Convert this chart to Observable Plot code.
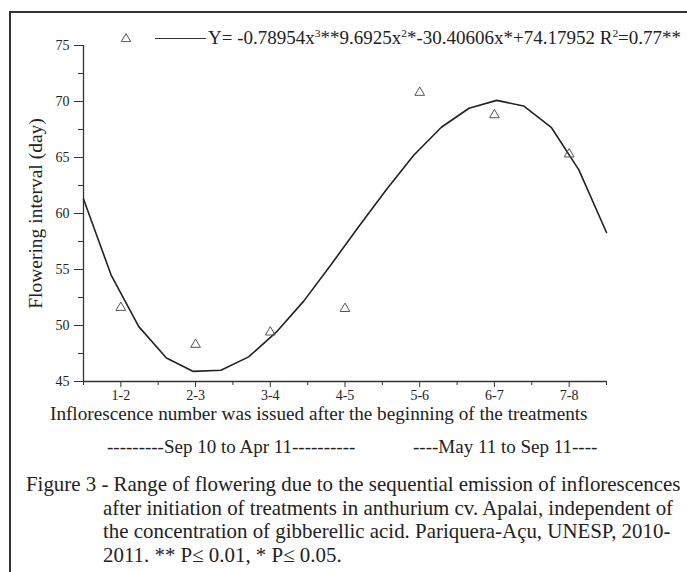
<!DOCTYPE html>
<html>
<head>
<meta charset="utf-8">
<script src="https://cdn.jsdelivr.net/npm/d3@7"></script>
<script src="https://cdn.jsdelivr.net/npm/@observablehq/plot@0.6"></script>
<style>
  html, body { margin: 0; padding: 0; background: #fff; }
  body { width: 687px; height: 572px; overflow: hidden; position: relative;
         font-family: "Liberation Serif", "Times New Roman", serif; color: #222; }
  .abs { position: absolute; white-space: nowrap; }
  sup { font-size: 0.6em; vertical-align: 0; position: relative; top: -0.6em; }
  #chart { position: absolute; left: 0; top: 0; }
</style>
</head>
<body>
<div class="abs" style="left:9px; top:11px; width:1.5px; height:561px; background:#333;"></div>
<div class="abs" style="left:9px; top:11px; width:678px; height:1.5px; background:#333;"></div>
<div id="chart"></div>
<div class="abs" id="legend" style="left:118px; top:27px; height:22px; font-size:19px; line-height:22px;">
  <svg width="90" height="22" style="vertical-align:top">
    <path d="M8,6.5 L12.7,14.6 L3.3,14.6 Z" fill="none" stroke="#555" stroke-width="1"/>
    <line x1="37" x2="88" y1="11.5" y2="11.5" stroke="#333" stroke-width="1"/>
  </svg><span id="eq" style="vertical-align:top"></span>
</div>
<div class="abs" id="xtitle" style="left:50px; top:406px; font-size:19.2px; line-height:15px;"></div>
<div class="abs" id="p1" style="left:107px; top:438px; font-size:19px; line-height:18px;"></div>
<div class="abs" id="p2" style="left:413px; top:438px; font-size:19px; line-height:18px;"></div>
<div class="abs" id="caption" style="left:26px; top:473px; font-size:20.9px; line-height:23.7px;"></div>
<script>
// ---- data ----
const xLabels = ["1-2", "2-3", "3-4", "4-5", "5-6", "6-7", "7-8"];
const xPositions = [1, 2, 3, 4, 5, 6, 7];
const observed = [51.6, 48.3, 49.4, 51.5, 70.8, 68.8, 65.3];
// fitted curve vertices as drawn (polyline)
const fitX = [0.5, 0.87, 1.24, 1.61, 1.97, 2.34, 2.71, 3.08, 3.45, 3.82,
              4.18, 4.55, 4.92, 5.29, 5.66, 6.03, 6.39, 6.76, 7.13, 7.5];
const fitY = [61.3, 54.5, 49.9, 47.1, 45.9, 46.0, 47.2, 49.4, 52.2, 55.5,
              58.8, 62.1, 65.2, 67.7, 69.4, 70.1, 69.6, 67.7, 63.9, 58.3];
const yMajor = [45, 50, 55, 60, 65, 70, 75];
const yMinor = [47.5, 52.5, 57.5, 62.5, 67.5, 72.5];
const xMinor = [0.5, 1.5, 2.5, 3.5, 4.5, 5.5, 6.5, 7.5];
const yLabel = "Flowering interval (day)";
const xTitle = "Inflorescence number was issued after the beginning of the treatments";
const period1 = "---------Sep 10 to Apr 11----------";
const period2 = "----May 11 to Sep 11----";
const equationHTML = "Y= -0.78954x<sup>3</sup>**9.6925x<sup>2</sup>*-30.40606x*+74.17952 R<sup>2</sup>=0.77**";
const captionLines = [
  "Figure 3 - Range of flowering due to the sequential emission of inflorescences",
  "after initiation of treatments in anthurium cv. Apalai, independent of",
  "the concentration of gibberellic acid. Pariquera-Açu, UNESP, 2010-",
  "2011. ** P≤ 0.01, * P≤ 0.05."
];

const points = xPositions.map((x, i) => ({x, y: observed[i]}));
const curve = fitX.map((x, i) => ({x, y: fitY[i]}));

const chart = Plot.plot({
  width: 687,
  height: 420,
  marginLeft: 83,
  marginRight: 81,
  marginTop: 45,
  marginBottom: 39,
  style: { background: "transparent", fontFamily: '"Liberation Serif", "Times New Roman", serif', fontSize: "14px", color: "#222" },
  x: { domain: [0.5, 7.5] },
  y: { domain: [45, 75] },
  marks: [
    Plot.ruleX([0.5], { stroke: "#333", strokeWidth: 1.3 }),
    Plot.ruleY([45], { stroke: "#333", strokeWidth: 1.3 }),
    Plot.axisY(yMajor, { tickSize: 9, tickPadding: 5, fontSize: 14, label: null, stroke: "#333", fill: "#222" }),
    Plot.axisY(yMinor, { tickSize: 5, tickFormat: () => "", label: null, stroke: "#333" }),
    Plot.axisX(xPositions, { tickSize: 6, tickPadding: 3, fontSize: 14, tickFormat: d => xLabels[d - 1], label: null, stroke: "#333", fill: "#222" }),
    Plot.axisX(xMinor, { tickSize: 4, tickFormat: () => "", label: null, stroke: "#333" }),
    Plot.text([yLabel], { frameAnchor: "left", dx: -48, rotate: -90, textAnchor: "middle", fontSize: 19.5, fill: "#222" }),
    Plot.line(curve, { x: "x", y: "y", stroke: "#222", strokeWidth: 1.6 }),
    Plot.dot(points, { x: "x", y: "y", symbol: "triangle", r: 3.6, fill: "none", stroke: "#555", strokeWidth: 1 })
  ]
});
document.getElementById("chart").appendChild(chart);
document.getElementById("eq").innerHTML = equationHTML;
document.getElementById("xtitle").textContent = xTitle;
document.getElementById("p1").textContent = period1;
document.getElementById("p2").textContent = period2;
document.getElementById("caption").innerHTML = captionLines.map((l, i) =>
  `<div style="padding-left:${i === 0 ? 0 : 77}px">${l}</div>`).join("");
</script>
</body>
</html>
